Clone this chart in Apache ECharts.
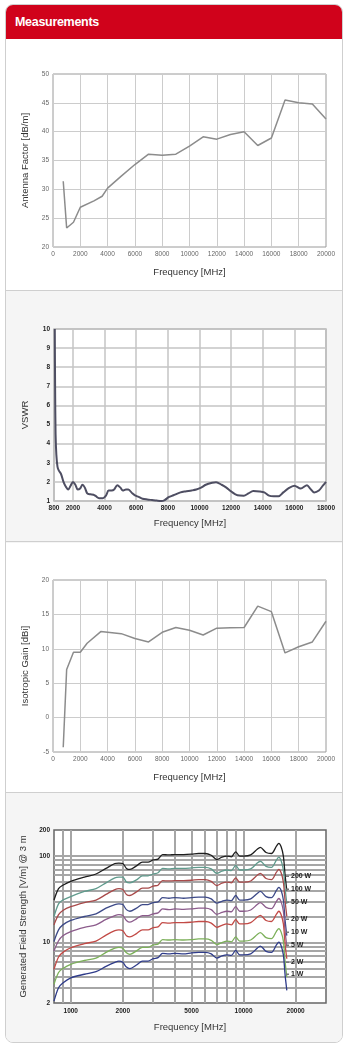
<!DOCTYPE html>
<html>
<head>
<meta charset="utf-8">
<title>Measurements</title>
<script src="https://cdn.jsdelivr.net/npm/echarts@6/dist/echarts.min.js"></script>
<style>
  html, body { margin: 0; padding: 0; background: #fff; }
  #frame { position: absolute; left: 5px; top: 4px; width: 336px; height: 1037px; border: 1px solid #cfcfcf; border-radius: 8px; overflow: hidden; background: #fff; }
  #head { height: 34px; background: #d0021b; color: #fff; font: bold 12.5px "Liberation Sans", sans-serif; line-height: 34px; padding-left: 9px; letter-spacing: -0.3px; }
  .panel { position: absolute; left: 0; right: 0; height: 252px; border-top: 1px solid #cfcfcf; }
  .grey { background: #f5f5f5; }
  #chart { position: absolute; left: 0; top: 0; width: 351px; height: 1049px; }
</style>
</head>
<body>
<div id="frame">
  <div id="head">Measurements</div>
  <div class="panel grey" style="top:285px"></div>
  <div class="panel" style="top:536px"></div>
  <div class="panel grey" style="top:787px"></div>
</div>
<div id="chart"></div>
<script>
// antenna factor
const afFreq = [750, 1000, 1500, 2000, 3000, 3600, 4000, 5000, 6000, 7000, 8000, 9000, 10000, 11000, 12000, 13000, 14000, 15000, 16000, 17000, 18000, 19000, 20000];
const afValue = [31.4, 23.3, 24.3, 26.9, 28, 28.8, 30.2, 32.3, 34.3, 36.1, 35.9, 36.1, 37.5, 39.1, 38.7, 39.5, 40.0, 37.6, 38.9, 45.5, 45.0, 44.8, 42.2];

// vswr
const vsFreq = [850, 870, 900, 950, 1020, 1100, 1250, 1400, 1550, 1700, 1850, 2000, 2150, 2300, 2450, 2600, 2750, 2900, 3100, 3300, 3450, 3650, 3900, 4100, 4250, 4450, 4600, 4800, 5000, 5150, 5350, 5500, 5750, 5950, 6150, 6400, 6700, 7000, 7300, 7600, 7800, 8050, 8350, 8800, 9100, 9500, 9800, 10100, 10400, 10800, 11050, 11400, 11700, 12000, 12400, 12800, 13100, 13400, 13800, 14100, 14400, 14700, 15000, 15300, 15600, 16000, 16400, 16800, 17000, 17250, 17550, 17800, 18000];
const vsValue = [10, 7, 4.5, 3.4, 2.8, 2.6, 2.4, 2.0, 1.75, 1.6, 1.8, 2.0, 1.85, 1.6, 1.65, 1.85, 1.7, 1.4, 1.35, 1.33, 1.25, 1.15, 1.15, 1.3, 1.55, 1.55, 1.6, 1.82, 1.7, 1.55, 1.6, 1.6, 1.4, 1.28, 1.22, 1.12, 1.08, 1.05, 1.02, 1.0, 1.05, 1.2, 1.3, 1.45, 1.5, 1.55, 1.6, 1.7, 1.85, 1.95, 1.98, 1.85, 1.7, 1.5, 1.3, 1.28, 1.4, 1.52, 1.5, 1.45, 1.28, 1.25, 1.25, 1.45, 1.65, 1.8, 1.65, 1.83, 1.65, 1.45, 1.55, 1.8, 2.0];

// isotropic gain
const gFreq = [750, 1000, 1500, 2000, 2500, 3500, 4000, 5000, 6000, 7000, 8000, 9000, 10000, 11000, 12000, 13000, 14000, 15000, 16000, 17000, 18000, 19000, 20000];
const gValue = [-4.3, 7, 9.5, 9.5, 10.8, 12.5, 12.4, 12.2, 11.5, 11, 12.4, 13.1, 12.7, 12, 13, 13.05, 13.1, 16.2, 15.4, 9.4, 10.3, 11, 14];

// generated field strength
const fsFreq = [800, 850, 900, 1000, 1200, 1400, 1600, 1800, 1900, 2000, 2100, 2200, 2400, 2600, 2800, 3000, 3200, 3400, 3700, 4000, 4500, 5000, 5500, 6000, 6500, 7000, 7500, 8000, 8500, 9000, 9500, 10000, 11000, 12000, 12500, 13500, 14500, 15500, 16000, 16500, 17000, 17400, 17800];
const fs200W = [31, 42, 46, 51, 57, 62, 72, 82, 83, 82, 72, 70, 77, 85, 85, 90, 92, 104, 103, 104, 104, 105, 107, 107, 102, 91, 97, 100, 98, 112, 100, 100, 103, 120, 126, 110, 107, 130, 140, 128, 100, 60, 40];
const fs100W = [20, 28, 31, 34, 39, 42, 49, 56, 57, 57, 50, 49, 53, 59, 59, 62, 64, 72, 71, 72, 72, 73, 74, 74, 71, 63, 67, 69, 68, 78, 69, 69, 71, 83, 87, 76, 74, 90, 97, 88, 69, 42, 28];
const fs50W = [16, 21, 23.5, 26, 29, 31, 36, 41, 42, 41, 36, 35, 38.5, 42.5, 42.5, 45, 46, 52, 51.5, 52, 52, 52.5, 53.5, 53.5, 51, 45.5, 48.5, 50, 49, 56, 50, 50, 51.5, 60, 63, 55, 53.5, 65, 70, 64, 50, 30, 20];
const fs20W = [10.3, 14, 16, 18, 20, 21.5, 25, 27.5, 28, 27.5, 24, 23, 25, 27.5, 27.5, 29, 29.5, 33, 32.5, 33, 32.5, 33, 33.5, 33.5, 32, 28.5, 30, 31, 30.5, 35, 31, 31, 32, 37, 39, 34, 33, 40, 43.5, 40, 31, 18, 12];
const fs10W = [8, 10.5, 12, 13.4, 15, 16, 18.5, 20.5, 21, 20.5, 18, 17.2, 18.8, 20.5, 20.5, 21.5, 22, 24.5, 24, 24.5, 24.2, 24.5, 25, 25, 24, 21.2, 22.3, 23, 22.7, 26, 23, 23, 23.8, 27.5, 29, 25.5, 24.6, 30, 32.3, 29.5, 23, 13.5, 9];
const fs5W = [4.9, 6.8, 7.7, 8.7, 9.7, 10.4, 12.2, 13.7, 14, 13.7, 12, 11.6, 12.7, 14, 14, 14.9, 15.2, 17, 16.8, 17, 17, 17.2, 17.5, 17.5, 16.8, 15, 15.8, 16.4, 16, 18.4, 16.4, 16.4, 17, 19.6, 20.6, 18, 17.5, 21.3, 23, 21, 16.4, 9.5, 6.5];
const fs2W = [3.3, 4.5, 5, 5.6, 6.2, 6.6, 7.7, 8.6, 8.8, 8.6, 7.6, 7.3, 8, 8.8, 8.8, 9.4, 9.6, 10.8, 10.7, 10.8, 10.7, 10.8, 11, 11, 10.6, 9.5, 10, 10.4, 10.2, 11.6, 10.4, 10.4, 10.7, 12.4, 13, 11.4, 11.1, 13.5, 14.5, 13.2, 10.4, 6, 4];
const fs1W = [2.1, 3, 3.4, 3.9, 4.3, 4.6, 5.3, 5.9, 6.1, 5.9, 5.2, 5, 5.5, 6.1, 6.1, 6.5, 6.7, 7.5, 7.4, 7.5, 7.4, 7.6, 7.7, 7.7, 7.4, 6.6, 7, 7.2, 7.1, 8.1, 7.2, 7.2, 7.4, 8.6, 9.1, 7.9, 7.7, 9.4, 10.1, 9.2, 7.2, 4.2, 2.8];
const fsNames = ['200 W', '100 W', '50 W', '20 W', '10 W', '5 W', '2 W', '1 W'];
const fsSeries = [fs200W, fs100W, fs50W, fs20W, fs10W, fs5W, fs2W, fs1W];
const fsColors = ['#1e1e1e', '#5f9a8c', '#a84a4a', '#3d4a88', '#8c5c8c', '#c24a46', '#7cb05a', '#2f3c8a'];

// log grid of the last chart
const fsGridX = [900, 1000, 2000, 3000, 4000, 5000, 6000, 7000, 8000, 9000, 10000, 20000];
const fsLabelX = [1000, 2000, 5000, 10000, 20000];
const fsGridY = [3, 4, 5, 6, 7, 8, 9, 10, 20, 30, 40, 50, 60, 70, 80, 90, 100];

const FONT = '"Liberation Sans", Arial, sans-serif';
const pairs = (xs, ys) => xs.map((x, i) => [x, ys[i]]);
const plain = v => String(v);

const thinLabel = { fontFamily: FONT, fontSize: 6.5, color: '#666', margin: 4, formatter: plain };
const boldLabel = { fontFamily: FONT, fontSize: 6.5, fontWeight: 'bold', color: '#222', margin: 4, formatter: plain };
const nameStyle = { fontFamily: FONT, fontSize: 9.5, color: '#333' };

const chart = echarts.init(document.getElementById('chart'));

// W labels right of the last chart
const wLabelY = [876, 889, 902, 919, 932, 945, 962, 974];
const wGraphics = [];
fsNames.forEach((n, i) => {
  wGraphics.push({ type: 'rect', z: 10, shape: { x: 286, y: wLabelY[i] - 0.5, width: 3, height: 1.5 }, style: { fill: '#777' } });
  wGraphics.push({ type: 'text', z: 10, x: 291, y: wLabelY[i], style: { text: n, font: 'bold 7px ' + FONT, fill: '#222', verticalAlign: 'middle' } });
});

chart.setOption({
  animation: false,
  grid: [
    { left: 53, top: 74, width: 273, height: 173, show: true, backgroundColor: '#fff', borderColor: '#9a9a9a', borderWidth: 1 },
    { left: 54, top: 329, width: 272, height: 172, show: true, backgroundColor: '#fff', borderColor: '#8a8a8a', borderWidth: 1.2 },
    { left: 53, top: 580, width: 273, height: 172, show: true, backgroundColor: '#fff', borderColor: '#9a9a9a', borderWidth: 1 },
    { left: 54, top: 830, width: 272, height: 173, show: true, backgroundColor: '#fff', borderColor: '#666', borderWidth: 1.5 }
  ],
  xAxis: [
    {
      gridIndex: 0, type: 'value', min: 0, max: 20000, interval: 2000,
      axisLine: { show: false }, axisTick: { show: false },
      axisLabel: thinLabel,
      splitLine: { lineStyle: { color: '#cccccc', width: 1 } },
      name: 'Frequency [MHz]', nameLocation: 'middle', nameGap: 20, nameTextStyle: nameStyle
    },
    {
      gridIndex: 1, type: 'value', min: 800, max: 18000, splitNumber: 9,
      axisLine: { show: false }, axisTick: { show: false },
      axisLabel: boldLabel,
      splitLine: { lineStyle: { color: '#c4c4c4', width: 1.5 } },
      name: 'Frequency [MHz]', nameLocation: 'middle', nameGap: 17, nameTextStyle: nameStyle
    },
    {
      gridIndex: 2, type: 'value', min: 0, max: 20000, interval: 2000,
      axisLine: { show: false }, axisTick: { show: false },
      axisLabel: thinLabel,
      splitLine: { lineStyle: { color: '#cccccc', width: 1 } },
      name: 'Frequency [MHz]', nameLocation: 'middle', nameGap: 20, nameTextStyle: nameStyle
    },
    {
      gridIndex: 3, type: 'log', logBase: 10, min: 800, max: 30000,
      axisLine: { show: false }, axisTick: { show: false },
      axisLabel: { show: false }, splitLine: { show: false },
      name: 'Frequency [MHz]', nameLocation: 'middle', nameGap: 19, nameTextStyle: nameStyle
    }
  ],
  yAxis: [
    {
      gridIndex: 0, type: 'value', min: 20, max: 50, interval: 5,
      axisLine: { show: false }, axisTick: { show: false },
      axisLabel: thinLabel,
      splitLine: { lineStyle: { color: '#cccccc', width: 1 } },
      name: 'Antenna Factor [dB/m]', nameLocation: 'middle', nameGap: 23, nameTextStyle: nameStyle
    },
    {
      gridIndex: 1, type: 'value', min: 1, max: 10, interval: 1,
      axisLine: { show: false }, axisTick: { show: false },
      axisLabel: boldLabel,
      splitLine: { lineStyle: { color: '#c4c4c4', width: 1.5 } },
      name: 'VSWR', nameLocation: 'middle', nameGap: 24, nameTextStyle: nameStyle
    },
    {
      gridIndex: 2, type: 'value', min: -5, max: 20, interval: 5,
      axisLine: { show: false }, axisTick: { show: false },
      axisLabel: thinLabel,
      splitLine: { lineStyle: { color: '#cccccc', width: 1 } },
      name: 'Isotropic Gain [dBi]', nameLocation: 'middle', nameGap: 23, nameTextStyle: nameStyle
    },
    {
      gridIndex: 3, type: 'log', logBase: 10, min: 2, max: 200,
      axisLine: { show: false }, axisTick: { show: false },
      axisLabel: Object.assign({ showMinLabel: true, showMaxLabel: true }, boldLabel),
      splitLine: { show: false },
      name: 'Generated Field Strength [V/m] @ 3 m', nameLocation: 'middle', nameGap: 24, nameTextStyle: nameStyle
    }
  ],
  graphic: wGraphics,
  series: [
    {
      type: 'line', xAxisIndex: 0, yAxisIndex: 0, data: pairs(afFreq, afValue),
      symbol: 'none', lineStyle: { color: '#8c8c8c', width: 1.5 }, z: 3
    },
    {
      type: 'line', xAxisIndex: 1, yAxisIndex: 1, data: pairs(vsFreq, vsValue),
      symbol: 'none', smooth: 0.3, lineStyle: { color: '#4e4e62', width: 2 }, z: 3
    },
    {
      type: 'line', xAxisIndex: 2, yAxisIndex: 2, data: pairs(gFreq, gValue),
      symbol: 'none', lineStyle: { color: '#8c8c8c', width: 1.5 }, z: 3
    },
    {
      type: 'line', xAxisIndex: 3, yAxisIndex: 3, data: [], symbol: 'none', z: 1,
      markLine: {
        silent: true, z: 1, symbol: ['none', 'none'], animation: false,
        lineStyle: { color: '#a6a6a6', width: 2, type: 'solid' },
        label: { show: false },
        emphasis: { disabled: true },
        data: fsGridX.map(v => ({
          xAxis: v,
          label: fsLabelX.includes(v)
            ? { show: true, position: 'start', formatter: String(v), distance: 5, fontFamily: FONT, fontSize: 6.5, fontWeight: 'bold', color: '#222' }
            : { show: false }
        })).concat(fsGridY.map(v => ({ yAxis: v })))
      }
    }
  ].concat(fsSeries.map((d, i) => ({
    type: 'line', name: fsNames[i], xAxisIndex: 3, yAxisIndex: 3, data: pairs(fsFreq, d),
    symbol: 'none', smooth: 0.3, lineStyle: { color: fsColors[i], width: 1.3 }, z: 3
  })))
});
</script>
</body>
</html>
